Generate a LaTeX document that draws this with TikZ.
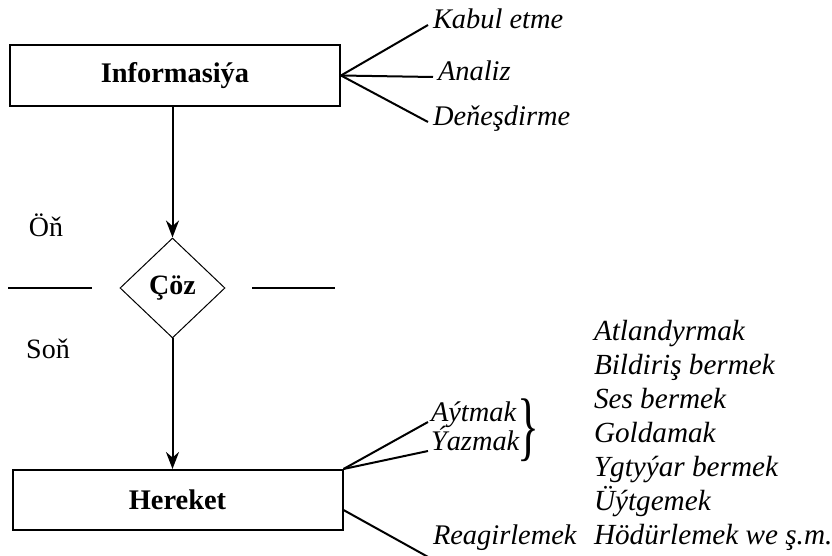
\documentclass[tikz,border=0pt]{standalone}
\usepackage{graphicx}
\usepackage{fontspec}
\setmainfont{Liberation Serif}
\usetikzlibrary{arrows.meta, positioning, shapes.geometric}
\tikzset{
  every picture/.style={line width=1pt},
  box/.style={draw, rectangle, minimum width=165pt, minimum height=#1, inner sep=0pt, font=\fontsize{14.2}{17}\selectfont\bfseries},
  box/.default=30pt,
  choice/.style={draw, diamond, line width=0.5pt, minimum width=52.5pt, minimum height=50pt, inner sep=0pt, font=\fontsize{14}{17}\selectfont\bfseries},
  lbl/.style={font=\fontsize{14.2}{17}\selectfont\itshape, inner sep=1pt, anchor=base west},
  side/.style={font=\fontsize{14}{17}\selectfont, anchor=base},
  arrow/.style={-{Stealth[length=8.5pt, width=6.5pt]}},
}

\begin{document}
\begin{tikzpicture}[x=0.5pt, y=-0.5pt]
  \useasboundingbox (0,0) rectangle (832,556);
  \node[box=30.5pt] (info) at (175,75.5) {Informasiýa};
  \node[choice] (dec) at (172.5,288) {Çöz};
  \node[box] (act) at (177.5,500) {Hereket};
  \draw[arrow] (info.south -| dec.north) -- (dec.north);
  \draw[arrow] (dec.south) -- (dec.south |- act.north);
  % before / after the decision
  \node[side] (before) at (46,237) {Öň};
  \node[side] (after) at (48,359) {Soň};
  \draw (8,288) -- (92,288);
  \draw (252,288) -- (335,288);
  % what happens to the information
  \node[lbl] (kabul) at (430,29) {Kabul etme};
  \node[lbl] (analiz) at (435,81) {Analiz};
  \node[lbl] (denes) at (430,126) {Deňeşdirme};
  \foreach \n in {kabul,analiz,denes} \draw (info.east) -- ([shift={(-1pt,2pt)}]\n.base west);
  % kinds of action
  \node[lbl] (say) at (428,422) {Aýtmak};
  \node[lbl] (write) at (428,451) {Ýazmak};
  \node[lbl] (react) at (430,545) {Reagirlemek};
  \node[inner sep=0pt, font=\fontsize{38}{38}\selectfont] (brace) at (528,430) {\scalebox{0.6}[1]{\}}};
  \draw (act.north east) -- (say.base west);
  \draw (act.north east) -- (write.base west);
  \draw ([yshift=-5pt]act.east) -- ([yshift=-2pt]react.south west);
  \foreach \i/\w in {1/Atlandyrmak, 2/Bildiriş bermek, 3/Ses bermek, 4/Goldamak, 5/Ygtyýar bermek, 6/Üýtgemek, 7/Hödürlemek we ş.m.}
    \node[lbl, font=\fontsize{14.6}{17}\selectfont\itshape] (way\i) at (591,{307+34*\i}) {\w};
\end{tikzpicture}
\end{document}
